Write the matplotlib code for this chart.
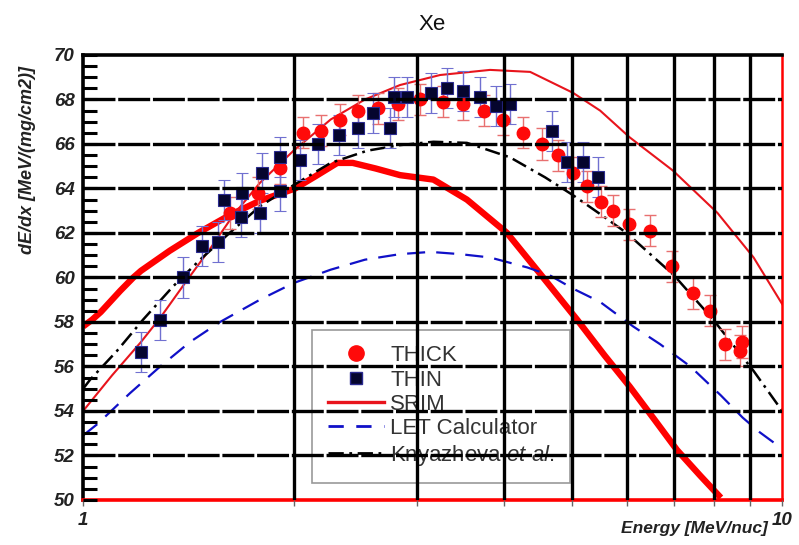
import numpy as np
import matplotlib
matplotlib.use("Agg")
import matplotlib.pyplot as plt
from matplotlib.lines import Line2D
from matplotlib.ticker import FixedLocator, NullFormatter

plt.rcParams['font.family'] = ['Liberation Sans', 'DejaVu Sans']
plt.rcParams['mathtext.fontset'] = 'custom'
plt.rcParams['mathtext.rm'] = 'Liberation Sans'
plt.rcParams['mathtext.it'] = 'Liberation Sans:italic'
plt.rcParams['lines.scale_dashes'] = False

# THICK target data (red circles)
thick_e = [1.62, 1.78, 1.91, 2.06, 2.19, 2.33, 2.47, 2.64, 2.82, 3.03, 3.27,
           3.50, 3.74, 3.99, 4.26, 4.54, 4.78, 5.02, 5.26, 5.51, 5.73, 6.04,
           6.48, 6.96, 7.46, 7.89, 8.29, 8.77, 8.71]
thick_y = [62.9, 63.8, 64.9, 66.5, 66.6, 67.1, 67.5, 67.6, 67.8, 68.0, 67.9,
           67.8, 67.5, 67.1, 66.5, 66.0, 65.5, 64.7, 64.1, 63.4, 63.0, 62.4,
           62.1, 60.5, 59.3, 58.5, 57.0, 57.1, 56.7]
thick_err = 0.7

# THIN target data (navy squares)
thin_e = [1.21, 1.29, 1.39, 1.48, 1.56, 1.59, 1.68, 1.69, 1.79, 1.80, 1.91,
          1.91, 2.04, 2.17, 2.32, 2.47, 2.60, 2.75, 2.78, 2.91, 3.14, 3.32,
          3.50, 3.69, 3.89, 4.08, 4.69, 4.93, 5.19, 5.46]
thin_y = [56.65, 58.1, 60.0, 61.4, 61.6, 63.5, 62.7, 63.8, 62.9, 64.7, 65.4,
          63.9, 65.3, 66.0, 66.4, 66.7, 67.4, 66.7, 68.1, 68.1, 68.3, 68.5,
          68.4, 68.1, 67.7, 67.8, 66.6, 65.2, 65.2, 64.5]
thin_err = 0.9

# SRIM (thin red line)
srim_e = [1.0, 1.10, 1.21, 1.29, 1.41, 1.52, 1.64, 1.79, 2.0, 2.26, 2.53, 2.84,
          3.24, 3.82, 4.36, 5.02, 5.49, 6.05, 6.98, 8.08, 9.1, 10.0]
srim_y = [54.0, 55.6, 57.1, 58.2, 59.9, 61.3, 62.8, 64.25, 65.7, 67.1, 68.0,
          68.65, 69.1, 69.33, 69.24, 68.3, 67.5, 66.3, 64.8, 62.9, 60.9, 58.8]

# second red curve (thick line, no legend entry)
red2_e = [1.0, 1.03, 1.06, 1.13, 1.18, 1.21, 1.33, 1.46, 1.62, 1.79, 2.01,
          2.15, 2.31, 2.43, 2.62, 2.84, 3.17, 3.54, 4.04, 4.55, 5.09, 5.57,
          6.05, 6.57, 7.07, 7.63, 8.17]
red2_y = [57.8, 58.1, 58.45, 59.4, 60.0, 60.3, 61.2, 62.0, 62.8, 63.45, 64.0,
          64.55, 65.15, 65.15, 64.9, 64.6, 64.4, 63.5, 62.0, 60.0, 58.1, 56.5,
          55.1, 53.6, 52.25, 51.1, 50.1]

# LET Calculator (blue dashed)
let_e = [1.0, 1.047, 1.167, 1.289, 1.422, 1.57, 1.79, 2.0, 2.26, 2.53, 2.84,
         3.14, 3.46, 3.82, 4.32, 4.65, 5.02, 5.49, 6.12, 6.69, 7.39, 8.17,
         8.78, 9.28, 10.0]
let_y = [52.9, 53.4, 54.8, 56.0, 57.1, 58.0, 59.0, 59.75, 60.35, 60.8, 61.05,
         61.15, 61.05, 60.9, 60.45, 60.1, 59.5, 58.9, 57.8, 57.0, 56.0, 54.7,
         53.7, 53.05, 52.3]

# Knyazheva et al. (black dash-dot)
kny_e = [1.0, 1.023, 1.118, 1.218, 1.345, 1.47, 1.62, 1.79, 2.0, 2.26, 2.55,
         2.84, 3.17, 3.54, 4.08, 4.58, 5.02, 5.49, 5.99, 7.0, 7.97, 9.1, 10.0]
kny_y = [55.0, 55.4, 56.7, 58.1, 59.6, 60.8, 62.0, 63.2, 64.15, 65.15, 65.7,
         65.95, 66.1, 66.05, 65.4, 64.5, 63.7, 62.85, 62.0, 60.1, 58.1, 55.8, 54.0]

fig = plt.figure(figsize=(7.99, 5.45), dpi=100)
ax = fig.add_axes([0.104, 0.0826, 0.875, 0.8165])

ax.plot(red2_e, red2_y, color='#ff0000', lw=4.6, solid_capstyle='butt', zorder=2)
ax.plot(srim_e, srim_y, color='#e8141c', lw=1.5, zorder=2)
ax.plot(let_e, let_y, color='#1010c8', lw=1.6, dashes=(13, 8), zorder=2)
ax.plot(kny_e, kny_y, color='black', lw=1.8, dashes=(11, 4, 2, 4), zorder=2)

ax.errorbar(thick_e, thick_y, yerr=thick_err, fmt='o', color='#ff0a0a', ms=9,
            ecolor='#e87070', elinewidth=1.0, capsize=4, capthick=1.0, zorder=2)
ax.errorbar(thin_e, thin_y, yerr=thin_err, fmt='s', color='#05052e', ms=8,
            mec='#2a2a90', mew=0.8, ecolor='#7070d0', elinewidth=1.0, capsize=4,
            capthick=1.0, zorder=2)

ax.set_xscale('log')
ax.set_xlim(1, 10)
ax.set_ylim(50, 70)

ax.xaxis.set_major_locator(FixedLocator([1, 10]))
ax.xaxis.set_minor_locator(FixedLocator([2, 3, 4, 5, 6, 7, 8, 9]))
ax.xaxis.set_minor_formatter(NullFormatter())
ax.set_xticklabels(['1', '10'])
ax.set_yticks(np.arange(50, 71, 2))
ax.yaxis.set_minor_locator(FixedLocator(np.arange(50, 70.1, 0.5)))

tick_font = dict(fontsize=13.5, fontweight='bold', fontstyle='italic')
for lab in ax.get_yticklabels():
    lab.set(**tick_font, color='#222222')
for lab in ax.get_xticklabels():
    lab.set(**tick_font, color='#222222')

ax.tick_params(axis='y', which='both', direction='in', length=10, width=2.2,
               color='black', pad=6)
ax.tick_params(axis='x', which='both', direction='out', length=4, width=1.0,
               color='#666666', pad=5)

# grid on top of data
ax.set_axisbelow(False)
ax.grid(which='minor', axis='x', color='black', lw=2.4)
ax.grid(which='major', axis='y', color='black', lw=2.4, dashes=(23, 2))
ax.grid(which='major', axis='x', visible=False)
ylines = ax.yaxis.get_gridlines()
ylines[0].set_visible(False)
ylines[-1].set_visible(False)

for side in ['left', 'top']:
    ax.spines[side].set_color('black')
    ax.spines[side].set_linewidth(2.6)
ax.spines['bottom'].set_color('#ff0000')
ax.spines['bottom'].set_linewidth(2.6)
ax.spines['right'].set_color('#ff0000')
ax.spines['right'].set_linewidth(1.8)

h_thick = Line2D([], [], ls='none', marker='o', color='#ff0a0a', ms=11)
h_thin = Line2D([], [], ls='none', marker='s', color='#05052e', mec='#2a2a90', ms=9)
h_srim = Line2D([], [], color='#e8141c', lw=2.4)
h_let = Line2D([], [], color='#1010c8', lw=2.0, dashes=(11, 9))
h_kny = Line2D([], [], color='black', lw=2.0, dashes=(11, 4, 2, 4))
leg = ax.legend([h_thick, h_thin, h_srim, h_let, h_kny],
                ['THICK', 'THIN', 'SRIM', 'LET Calculator',
                 r'Knyazheva $\mathit{et\ al.}$'],
                loc='lower left', bbox_to_anchor=(0.328, 0.038), borderaxespad=0,
                fontsize=16, handlelength=2.5, labelspacing=0.15,
                borderpad=0.7, handletextpad=0.3, fancybox=False,
                edgecolor='#999999', framealpha=1.0)
leg.get_frame().set_linewidth(1.2)
for t in leg.get_texts():
    t.set_color('#333333')
leg.set_zorder(1)

fig.text(432 / 799, 1 - 25 / 545, 'Xe', fontsize=16, color='#111111',
         ha='center', va='center')
fig.text(28 / 799, 1 - 160 / 545, 'dE/dx [MeV/(mg/cm2)]', rotation=90,
         fontsize=13, fontweight='bold', fontstyle='italic', color='#222222',
         ha='center', va='center')
fig.text(768 / 799, 1 - 528 / 545, 'Energy [MeV/nuc]', fontsize=12.5,
         fontweight='bold', fontstyle='italic', color='#222222',
         ha='right', va='center')

fig.savefig('out.png', dpi=100)
